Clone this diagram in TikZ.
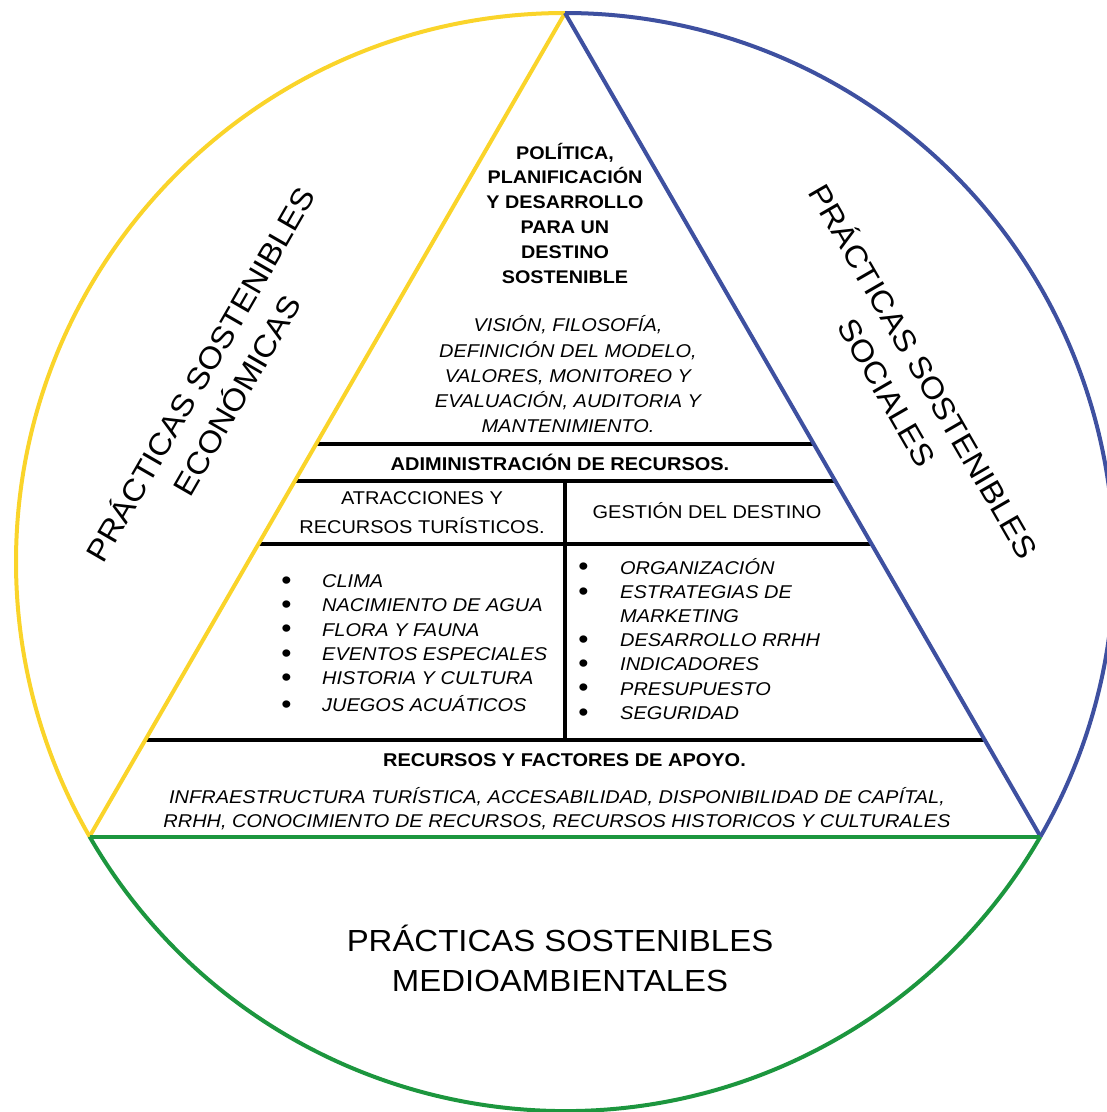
\documentclass[tikz,border=0pt]{standalone}
\usepackage{fontspec}
\setmainfont{Liberation Sans}[FakeStretch=1.08]
\usetikzlibrary{calc}
\definecolor{ecoyellow}{RGB}{250,212,42}
\definecolor{socblue}{RGB}{62,80,160}
\definecolor{envgreen}{RGB}{28,150,62}
% list marker: a heavier bullet set in its own box
\newcommand{\itemdot}[1]{\makebox[#1][l]{\raisebox{-1.8pt}{\fontsize{27}{0}\selectfont •}}}
\begin{document}
\begin{tikzpicture}[x=1pt,y=1pt,
  rim/.style={line width=4pt},
  bar/.style={line width=4pt, black},
  txt/.style={inner sep=0pt, align=center},
  body/.style={font=\fontsize{18.5}{24.5}\selectfont},
  bighead/.style={font=\fontsize{30.5}{40}\selectfont},
  tilted/.style={font=\fontsize{30.5}{42}\selectfont}
]
\useasboundingbox (0,0) rectangle (1107,-1112);

% outer circle and inscribed triangle
\coordinate (c) at (565,-562);
\coordinate (apex) at ($(c)+(90:549)$);
\coordinate (bl) at ($(c)+(210:549)$);
\coordinate (br) at ($(c)+(330:549)$);

% horizontal bars across the triangle
\foreach \t/\n in {0.5234/a, 0.5683/b, 0.6448/m, 0.8828/d}{
  \coordinate (l\n) at ($(apex)!\t!(bl)$);
  \coordinate (r\n) at ($(apex)!\t!(br)$);
  \draw[bar] (l\n) -- (r\n);
}
% central divider
\coordinate (vt) at ($(lb)!0.5!(rb)$);
\coordinate (vb) at ($(ld)!0.5!(rd)$);
\draw[bar] (vt) -- (vb);

% coloured arcs and sides
\draw[rim, ecoyellow] (apex) arc[start angle=90, end angle=210, radius=549];
\draw[rim, envgreen] (bl) arc[start angle=210, end angle=330, radius=549];
\draw[rim, socblue] (br) arc[start angle=330, end angle=450, radius=549];
\draw[rim, ecoyellow] (apex) -- (bl);
\draw[rim, socblue] (apex) -- (br);
\draw[rim, envgreen] (bl) -- (br);

% triangle contents
\node[txt, font=\bfseries\fontsize{18.3}{24.8}\selectfont] (policy) at (565,-213)
  {POLÍTICA,\\PLANIFICACIÓN\\Y DESARROLLO\\PARA UN\\DESTINO\\SOSTENIBLE};
\node[txt, font=\itshape\fontsize{18.5}{25.25}\selectfont] (vision) at (568,-374.5)
  {VISIÓN, FILOSOFÍA,\\DEFINICIÓN DEL MODELO,\\VALORES, MONITOREO Y\\EVALUACIÓN, AUDITORIA Y\\MANTENIMIENTO.};
\node[txt, font=\bfseries\fontsize{18.5}{24.5}\selectfont] (admin) at (560,-462)
  {ADIMINISTRACIÓN DE RECURSOS.};
\node[txt, font=\fontsize{18.5}{29}\selectfont] (attr) at (422,-512.5)
  {ATRACCIONES Y\\RECURSOS TURÍSTICOS.};
\node[txt, body] (gest) at (707,-511) {GESTIÓN DEL DESTINO};

\node[txt, align=left, anchor=west, font=\itshape\fontsize{18.5}{24.4}\selectfont] (attrlist) at (281,-644)
  {\itemdot{41pt}CLIMA\\
   \itemdot{41pt}NACIMIENTO DE AGUA\\
   \itemdot{41pt}FLORA Y FAUNA\\
   \itemdot{41pt}EVENTOS ESPECIALES\\
   \itemdot{41pt}HISTORIA Y CULTURA\\[2.5pt]
   \itemdot{41pt}JUEGOS ACUÁTICOS};
\node[txt, align=left, anchor=west, font=\itshape\fontsize{18.5}{24.2}\selectfont] (gestlist) at (578,-639.5)
  {\itemdot{42pt}ORGANIZACIÓN\\
   \itemdot{42pt}ESTRATEGIAS DE\\
   \hspace*{42pt}MARKETING\\
   \itemdot{42pt}DESARROLLO RRHH\\
   \itemdot{42pt}INDICADORES\\
   \itemdot{42pt}PRESUPUESTO\\
   \itemdot{42pt}SEGURIDAD};

\node[txt, font=\bfseries\fontsize{18.5}{24.5}\selectfont] (support) at (564.5,-760)
  {RECURSOS Y FACTORES DE APOYO.};
\node[txt, font=\itshape\fontsize{18.5}{24}\selectfont] (supportlist) at (557,-809)
  {INFRAESTRUCTURA TURÍSTICA, ACCESABILIDAD, DISPONIBILIDAD DE CAPÍTAL,\\RRHH, CONOCIMIENTO DE RECURSOS, RECURSOS HISTORICOS Y CULTURALES};

% the three surrounding practice labels
\node[txt, tilted, rotate=60] (econ) at (217,-384) {PRÁCTICAS SOSTENIBLES\\ECONÓMICAS};
\node[txt, tilted, rotate=-60] (social) at (907,-381) {PRÁCTICAS SOSTENIBLES\\SOCIALES};
\node[txt, bighead] (env) at (560,-958) {PRÁCTICAS SOSTENIBLES\\MEDIOAMBIENTALES};
\end{tikzpicture}
\end{document}
